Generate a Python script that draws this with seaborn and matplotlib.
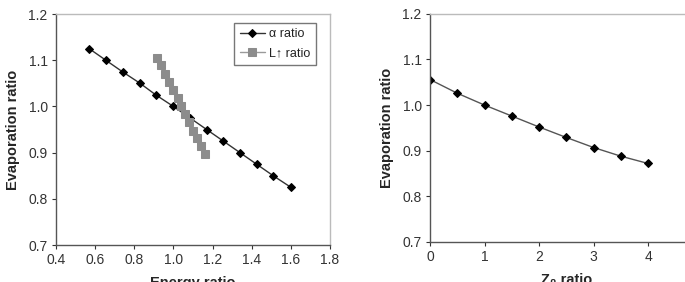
import matplotlib
matplotlib.use("Agg")
import numpy as np
import matplotlib.pyplot as plt
import seaborn as sns

# data
energy_alpha = [0.57, 0.655, 0.74, 0.83, 0.91, 1.0, 1.085, 1.17, 1.255, 1.34, 1.425, 1.51, 1.6]
evap_alpha = [1.125, 1.1, 1.075, 1.05, 1.025, 1.0, 0.975, 0.95, 0.925, 0.9, 0.875, 0.85, 0.825]

energy_lup = [0.916, 0.938, 0.955, 0.979, 0.996, 1.022, 1.041, 1.061, 1.081, 1.102, 1.121, 1.143, 1.163]
evap_lup = [1.105, 1.089, 1.071, 1.053, 1.036, 1.019, 1.001, 0.983, 0.966, 0.948, 0.931, 0.914, 0.897]

z_ratio = [0, 0.5, 1, 1.5, 2, 2.5, 3, 3.5, 4]
evap_z = [1.056, 1.026, 1.0, 0.976, 0.952, 0.929, 0.907, 0.888, 0.872]

left_xticks = [0.4, 0.6, 0.8, 1.0, 1.2, 1.4, 1.6, 1.8]
right_xticks = [0, 1, 2, 3, 4]
yticks = [0.7, 0.8, 0.9, 1.0, 1.1, 1.2]

sns.set_style("white")
plt.rcParams['font.family'] = ['Liberation Sans', 'DejaVu Sans']

fig = plt.figure(figsize=(6.85, 2.82), dpi=100)
ax1 = fig.add_axes([0.0818, 0.131, 0.40, 0.819])
ax2 = fig.add_axes([0.6277, 0.142, 0.398, 0.809])

# left panel
sns.lineplot(x=energy_alpha, y=evap_alpha, ax=ax1, color='#333333', lw=1.0,
             marker='D', markersize=4.5, markerfacecolor='black', markeredgecolor='black',
             label='α ratio')
sns.lineplot(x=energy_lup, y=evap_lup, ax=ax1, color='#9a9a9a', lw=1.0,
             marker='s', markersize=5.5, markerfacecolor='#8c8c8c', markeredgecolor='#8c8c8c',
             label='L↑ ratio')
ax1.set_xlim(0.4, 1.8)
ax1.set_xticks(left_xticks)
ax1.set_xticklabels([f'{t:.1f}' for t in left_xticks])
ax1.set_xlabel('Energy ratio', fontsize=10.5, fontweight='bold', labelpad=6)

leg = ax1.legend(loc='upper right', bbox_to_anchor=(0.97, 0.99), fontsize=9,
                 frameon=True, fancybox=False, handlelength=2.0, borderpad=0.45,
                 labelspacing=0.55, handletextpad=0.3)
leg.get_frame().set_edgecolor('#555555')
leg.get_frame().set_linewidth(1.0)
for t in leg.get_texts():
    t.set_color('#222222')

# right panel
sns.lineplot(x=z_ratio, y=evap_z, ax=ax2, color='#555555', lw=1.0,
             marker='D', markersize=4.5, markerfacecolor='black', markeredgecolor='black')
ax2.set_xlim(0, 5)
ax2.set_xticks(right_xticks)
ax2.set_xlabel('Z₀ ratio', fontsize=10.5, fontweight='bold', labelpad=6)

for ax in (ax1, ax2):
    ax.set_ylim(0.7, 1.2)
    ax.set_yticks(yticks)
    ax.set_yticklabels([f'{t:.1f}' for t in yticks])
    ax.set_ylabel('Evaporation ratio', fontsize=10.5, fontweight='bold', labelpad=6)
    ax.tick_params(axis='both', labelsize=10, colors='#333333', direction='out',
                   length=3, width=0.8, left=True, bottom=True, pad=3)
    for side in ('left', 'bottom'):
        ax.spines[side].set_color('#555555')
        ax.spines[side].set_linewidth(1.0)
    for side in ('top', 'right'):
        ax.spines[side].set_color('#bbbbbb')
        ax.spines[side].set_linewidth(1.0)

fig.savefig('out.png', dpi=100)
